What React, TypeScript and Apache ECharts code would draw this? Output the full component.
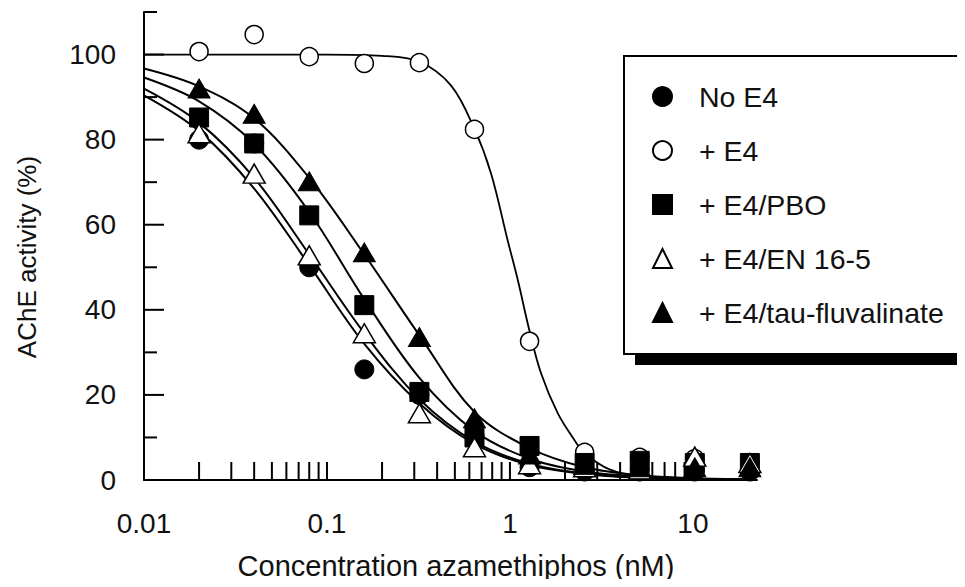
import React, { useEffect, useRef } from "react";
import * as echarts from "echarts";

// Azamethiphos concentrations (nM), two-fold dilution series
const concentrations = [0.02, 0.04, 0.08, 0.16, 0.32, 0.64, 1.28, 2.56, 5.12, 10.24, 20.48];

// Measured AChE activity (%) per treatment
const noE4 = [80, 79.1, 50, 26, 20, 10.5, 3, 2, 2, 2, 2];
const plusE4 = [100.7, 104.7, 99.5, 97.9, 98.1, 82.4, 32.6, 6.5, 5.3, 5, 4];
const plusE4PBO = [85.2, 79.1, 62.2, 41.1, 20.7, 10, 8, 4, 4.5, 4, 4];
const plusE4EN = [81.5, 72, 52.8, 34.5, 15.7, 7.7, 3.7, 3, 2.5, 5.5, 4];
const plusE4Tau = [92, 86.1, 70.2, 53.5, 33.6, 14.5, 6, 3.5, 3, 3, 3];

// Fitted inhibition curves
const fitX = [0.01, 0.02, 0.04, 0.08, 0.16, 0.32, 0.64, 1.28, 2.56, 5.12, 10.24, 20.48];
const fitNoE4 = [90.4, 82, 68.5, 50.5, 32, 18, 8.5, 3.5, 1.4, 0.5, 0.2, 0.1];
const fitEN = [92, 84, 71, 53, 34.5, 19, 9, 3.8, 1.5, 0.6, 0.2, 0.1];
const fitPBO = [94.6, 89, 79, 63, 42.5, 24, 11.5, 5, 2, 0.8, 0.3, 0.1];
const fitTau = [96.7, 92.5, 85, 71, 53, 34, 16, 7.5, 3, 1.1, 0.4, 0.15];
const fitE4X = [0.01, 0.1, 0.2, 0.32, 0.477, 0.64, 0.789, 0.972, 1.104, 1.28, 1.479, 1.824, 2.25, 2.56, 3.5, 5.12, 10.24, 20.48];
const fitE4 = [100, 100, 99.7, 98.3, 92.7, 82.5, 72, 56.3, 47, 35, 25.1, 15.7, 9.4, 6.3, 2.5, 0.9, 0.1, 0];

// Axis settings
const xMin = 0.01;
const xMax = 22.4;
const yMin = 0;
const yMax = 110;
const xTicks = [
  0.02, 0.03, 0.04, 0.05, 0.06, 0.07, 0.08, 0.09, 0.1,
  0.2, 0.3, 0.4, 0.5, 0.6, 0.7, 0.8, 0.9, 1,
  2, 3, 4, 5, 6, 7, 8, 9, 10, 20,
];
const yMajorTicks = [20, 40, 60, 80, 100];
const yMinorTicks = [10, 30, 50, 70, 90, 110];

const FONT = "'Liberation Sans', Arial, sans-serif";
const INK = "#111";

const pairs = (xs: number[], ys: number[]) => xs.map((x, i) => [x, ys[i]]);

export default function App() {
  const ref = useRef<HTMLDivElement>(null);

  useEffect(() => {
    if (!ref.current) return;
    const chart = echarts.init(ref.current, undefined, { renderer: "svg" });

    const curve = (data: number[][], width = 2) => ({
      type: "line",
      data,
      smooth: 0.35,
      showSymbol: false,
      symbol: "none",
      silent: true,
      z: 2,
      lineStyle: { color: "#000", width },
    });

    const markers = (
      name: string,
      ys: number[],
      symbol: string,
      size: number | number[],
      filled: boolean,
      z: number
    ) => ({
      type: "scatter",
      name,
      data: pairs(concentrations, ys),
      symbol,
      symbolSize: size,
      z,
      itemStyle: filled
        ? { color: "#000", borderColor: "#000", borderWidth: 1, opacity: 1 }
        : { color: "#fff", borderColor: "#000", borderWidth: 1.5, opacity: 1 },
    });

    const xTickSeries = {
      type: "custom",
      silent: true,
      z: 1,
      data: xTicks.map((v) => [v, yMin]),
      renderItem: (_p: any, api: any) => {
        const pt = api.coord([api.value(0), yMin]);
        return {
          type: "line",
          shape: { x1: pt[0], y1: pt[1], x2: pt[0], y2: pt[1] - 18 },
          style: { stroke: "#000", lineWidth: 2 },
        };
      },
    };

    const yTickSeries = (ticks: number[], len: number) => ({
      type: "custom",
      silent: true,
      z: 1,
      data: ticks.map((v) => [xMin, v]),
      renderItem: (_p: any, api: any) => {
        const pt = api.coord([xMin, api.value(1)]);
        return {
          type: "line",
          shape: { x1: pt[0], y1: pt[1], x2: pt[0] + len, y2: pt[1] },
          style: { stroke: "#000", lineWidth: 2 },
        };
      },
    });

    chart.setOption({
      animation: false,
      backgroundColor: "#fff",
      textStyle: { fontFamily: FONT, color: INK },
      grid: { left: 144, right: 208, top: 12, bottom: 107, containLabel: false },
      xAxis: {
        type: "log",
        logBase: 10,
        min: xMin,
        max: xMax,
        axisLine: { show: true, lineStyle: { color: "#000", width: 2 } },
        axisTick: { show: false },
        minorTick: { show: false },
        splitLine: { show: false },
        axisLabel: {
          fontSize: 28,
          fontFamily: FONT,
          color: INK,
          margin: 29,
          showMaxLabel: false,
          formatter: (v: number) => String(v),
        },
      },
      yAxis: {
        type: "value",
        min: yMin,
        max: yMax,
        interval: 10,
        axisLine: { show: true, lineStyle: { color: "#000", width: 2 } },
        axisTick: { show: false },
        splitLine: { show: false },
        axisLabel: {
          fontSize: 28,
          fontFamily: FONT,
          color: INK,
          margin: 28,
          formatter: (v: number) => (v % 20 === 0 && v <= 100 ? String(v) : ""),
        },
      },
      legend: {
        orient: "vertical",
        left: 652,
        top: 82,
        padding: 0,
        itemWidth: 19,
        itemHeight: 19,
        itemGap: 25,
        selectedMode: false,
        data: ["No E4", "+ E4", "+ E4/PBO", "+ E4/EN 16-5", "+ E4/tau-fluvalinate"],
        textStyle: {
          fontSize: 28.5,
          fontFamily: FONT,
          color: INK,
          padding: [0, 0, 0, 22],
        },
      },
      graphic: [
        // legend frame with offset drop shadow
        {
          type: "rect",
          z: 0,
          silent: true,
          shape: { x: 635, y: 67, width: 340, height: 298 },
          style: { fill: "#000" },
        },
        {
          type: "rect",
          z: 1,
          silent: true,
          shape: { x: 624, y: 56, width: 340, height: 298 },
          style: { fill: "#fff", stroke: "#000", lineWidth: 2 },
        },
        {
          type: "text",
          silent: true,
          x: 27,
          y: 257,
          rotation: Math.PI / 2,
          style: {
            text: "AChE activity (%)",
            font: `26px ${FONT}`,
            fill: INK,
            align: "center",
            verticalAlign: "middle",
          },
        },
        {
          type: "text",
          silent: true,
          x: 456,
          y: 566,
          style: {
            text: "Concentration azamethiphos (nM)",
            font: `29px ${FONT}`,
            fill: INK,
            align: "center",
            verticalAlign: "middle",
          },
        },
      ],
      series: [
        xTickSeries,
        yTickSeries(yMajorTicks, 20),
        yTickSeries(yMinorTicks, 13),
        curve(pairs(fitX, fitNoE4)),
        curve(pairs(fitX, fitEN)),
        curve(pairs(fitX, fitPBO)),
        curve(pairs(fitX, fitTau)),
        curve(pairs(fitE4X, fitE4), 1.8),
        markers("No E4", noE4, "circle", 19, true, 3),
        markers("+ E4", plusE4, "circle", 18, false, 4),
        markers("+ E4/PBO", plusE4PBO, "rect", 19, true, 5),
        markers("+ E4/EN 16-5", plusE4EN, "triangle", [22, 19], false, 6),
        markers("+ E4/tau-fluvalinate", plusE4Tau, "triangle", [22, 19], true, 7),
      ],
    });

    return () => chart.dispose();
  }, []);

  return <div ref={ref} style={{ width: 965, height: 587, margin: -8 }} />;
}
